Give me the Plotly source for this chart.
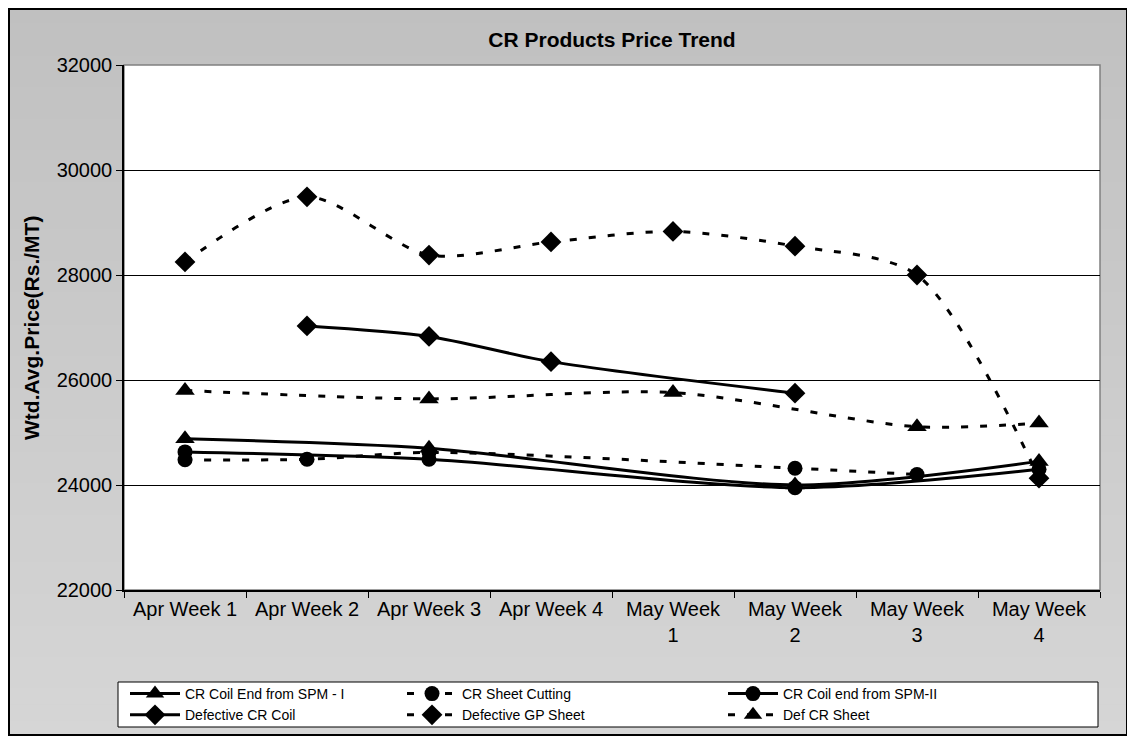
import plotly.graph_objects as go

categories = ["Apr Week 1", "Apr Week 2", "Apr Week 3", "Apr Week 4",
              "May Week 1", "May Week 2", "May Week 3", "May Week 4"]
tick_labels = ["Apr Week 1", "Apr Week 2", "Apr Week 3", "Apr Week 4",
               "May Week<br>1", "May Week<br>2", "May Week<br>3", "May Week<br>4"]

cr_coil_end_spm1 = [24880, None, 24700, None, None, 24000, None, 24450]
cr_sheet_cutting = [24480, 24490, 24620, None, None, 24320, 24200, None]
cr_coil_end_spm2 = [24630, None, 24490, None, None, 23950, None, 24300]
defective_cr_coil = [None, 27030, 26830, 26350, None, 25750, None, None]
defective_gp_sheet = [28250, 29490, 28380, 28630, 28830, 28550, 28000, 24130]
def_cr_sheet = [25800, None, 25640, None, 25760, None, 25110, 25180]

y_ticks = [22000, 24000, 26000, 28000, 30000, 32000]

DASH = "7px,12px"
series = [
    ("CR Coil End from SPM - I", cr_coil_end_spm1, "solid", "triangle-up", 17, "legend"),
    ("CR Sheet Cutting", cr_sheet_cutting, DASH, "circle", 15, "legend2"),
    ("CR Coil end from SPM-II", cr_coil_end_spm2, "solid", "circle", 15, "legend3"),
    ("Defective CR Coil", defective_cr_coil, "solid", "diamond", 16, "legend"),
    ("Defective GP Sheet", defective_gp_sheet, DASH, "diamond", 16, "legend2"),
    ("Def CR Sheet", def_cr_sheet, DASH, "triangle-up", 17, "legend3"),
]

fig = go.Figure()
for name, vals, dash, sym, msize, leg in series:
    fig.add_trace(go.Scatter(
        x=categories, y=vals, name=name, mode="lines+markers",
        connectgaps=True,
        line=dict(color="black", width=3, dash=dash, shape="spline", smoothing=0.8),
        marker=dict(symbol=sym, size=msize, color="black"),
        legend=leg,
    ))

# page has an 8px body margin; figure starts at page (8, 8)
OFF = 8
W, H = 1120, 728
PL, PR, PT, PB = 124, 1100, 65, 590          # plot area in page px
L, T = PL - OFF, PT - OFF
R = W - (PR - OFF)
B = H - (PB - OFF)
pw, ph = PR - PL, PB - PT

def px_x(px):
    return (px - PL) / pw

def px_y(py):
    return (PB - py) / ph

shapes = []
# gradient background bands
nb = 46
for i in range(nb):
    y0p = OFF + i * H / nb
    y1p = OFF + (i + 1) * H / nb
    t = (i + 0.5) / nb
    c = int(round(192 + (214 - 192) * t))
    shapes.append(dict(type="rect", xref="paper", yref="paper", layer="below",
                       x0=px_x(OFF), x1=px_x(OFF + W), y0=px_y(y1p + 0.5), y1=px_y(y0p),
                       fillcolor=f"rgb({c},{c},{c})", line=dict(width=0)))
# plot area
shapes.append(dict(type="rect", xref="paper", yref="paper", layer="below",
                   x0=0, x1=1, y0=0, y1=1, fillcolor="white",
                   line=dict(color="#808080", width=1.5)))
# outer border
shapes.append(dict(type="rect", xref="paper", yref="paper", layer="below",
                   x0=px_x(OFF + 1), x1=px_x(OFF + W - 1), y0=px_y(735), y1=px_y(OFF + 1),
                   line=dict(color="black", width=2)))
# legend box
shapes.append(dict(type="rect", xref="paper", yref="paper", layer="below",
                   x0=px_x(118), x1=px_x(1098), y0=px_y(727), y1=px_y(682),
                   fillcolor="white", line=dict(color="black", width=1)))

FONT = "Liberation Sans, Arial, sans-serif"
leg_common = dict(orientation="v", bgcolor="rgba(0,0,0,0)", borderwidth=0,
                  font=dict(family=FONT, size=14, color="black"),
                  yanchor="top", xanchor="left", tracegroupgap=0, itemwidth=50)

fig.update_layout(
    width=W, height=H,
    margin=dict(l=L, r=R, t=T, b=B, autoexpand=False),
    paper_bgcolor="#C8C8C8",
    plot_bgcolor="white",
    font=dict(family=FONT, color="black"),
    title=dict(text="<b>CR Products Price Trend</b>", x=0.5, xref="paper",
               xanchor="center", y=1 - (40 - OFF) / H, yanchor="middle",
               automargin=False,
               font=dict(family=FONT, size=21, color="black")),
    xaxis=dict(
        type="category", tickmode="array", tickvals=categories, ticktext=tick_labels,
        tickson="boundaries", ticks="outside", ticklen=6, tickcolor="black",
        showline=True, linecolor="black", linewidth=1.5, showgrid=False,
        tickfont=dict(family=FONT, size=20, color="black"),
        range=[-0.5, 7.5], zeroline=False, automargin=False,
    ),
    yaxis=dict(
        range=[22000, 32000], tickvals=y_ticks, tickformat="d",
        ticks="outside", ticklen=6,
        tickcolor="black", showline=True, linecolor="black", linewidth=1.5,
        showgrid=True, gridcolor="black", gridwidth=1, zeroline=False,
        tickfont=dict(family=FONT, size=20, color="black"),
        automargin=False,
    ),
    annotations=[dict(text="<b>Wtd.Avg.Price(Rs./MT)</b>", textangle=-90,
                      xref="paper", yref="paper", x=px_x(31), y=px_y(328),
                      xanchor="center", yanchor="middle", showarrow=False,
                      font=dict(family=FONT, size=21, color="black"))],
    showlegend=True,
    legend=dict(x=px_x(125), y=px_y(678), **leg_common),
    legend2=dict(x=px_x(402), y=px_y(678), **leg_common),
    legend3=dict(x=px_x(723), y=px_y(678), **leg_common),
    shapes=shapes,
)

fig.write_html("out.html")
